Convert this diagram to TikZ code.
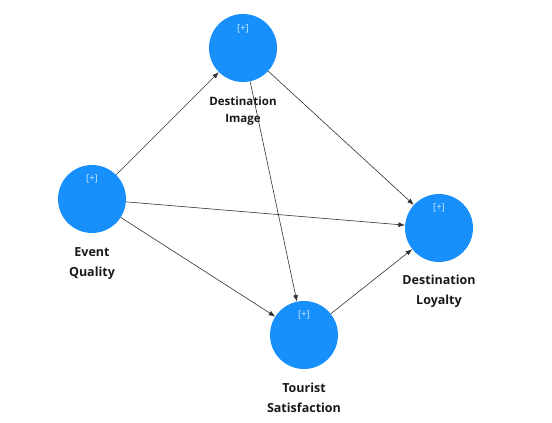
\documentclass[tikz,border=0pt]{standalone}
\usepackage{fontspec}
\setmainfont{Open Sans}
\usetikzlibrary{arrows.meta}
\definecolor{lvblue}{RGB}{24,144,252}
\definecolor{edgegray}{RGB}{50,50,50}
\begin{document}
\begin{tikzpicture}[x=1pt,y=-1pt,
  lv/.style={circle,fill=lvblue,draw=none,minimum size=68pt,inner sep=0pt},
  plus/.style={text=white!80!lvblue,font=\fontsize{9.5}{10}\selectfont,inner sep=0pt},
  lab/.style={font=\bfseries\fontsize{12.5}{20}\selectfont,align=center,inner sep=0pt,text=black!90},
  labs/.style={font=\bfseries\fontsize{11.5}{17}\selectfont,align=center,inner sep=0pt,text=black!90},
  path/.style={draw=edgegray,line width=0.6pt,-{Latex[length=6.5pt,width=5pt]}}]
\useasboundingbox (0,0) rectangle (552,423);
\node[lv] (di) at (243,48) {};
\node[lv] (eq) at (92,199) {};
\node[lv] (dl) at (439,228) {};
\node[lv] (ts) at (304,335) {};
\node[plus] (pdi) at (243,29) {[+]};
\node[plus] (peq) at (92,179) {[+]};
\node[plus] (pdl) at (439,208) {[+]};
\node[plus] (pts) at (304,315) {[+]};
\node[labs] (ldi) at (243,111) {Destination\\Image};
\node[lab] (leq) at (92,264) {Event\\Quality};
\node[lab] (ldl) at (439,291) {Destination\\Loyalty};
\node[lab] (lts) at (304,398) {Tourist\\Satisfaction};
\draw[path] (eq) -- (di);
\draw[path] (eq) -- (dl);
\draw[path] (eq) -- (ts);
\draw[path] (di) -- (dl);
\draw[path] (di) -- (ts);
\draw[path] (ts) -- (dl);
\end{tikzpicture}
\end{document}
